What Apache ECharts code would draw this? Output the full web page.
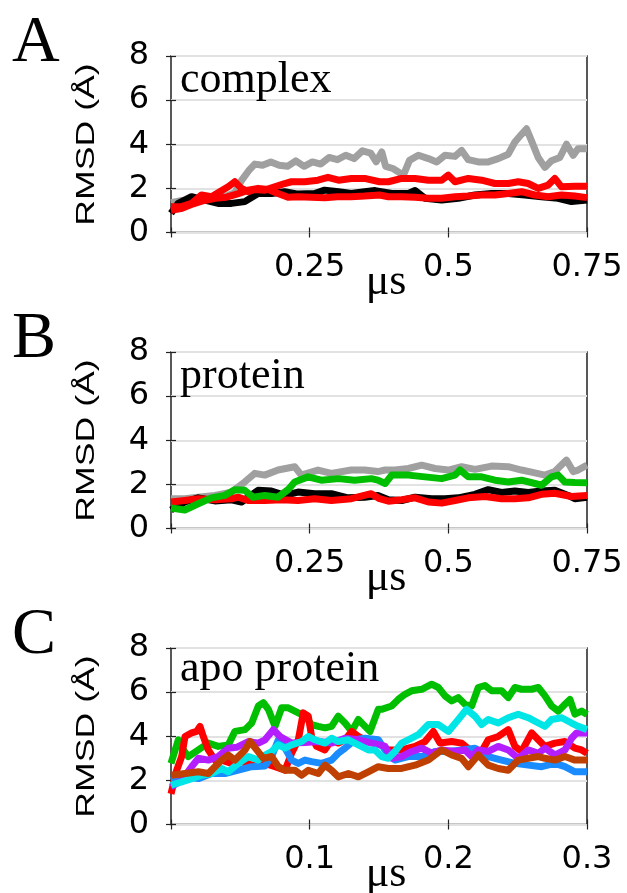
<!DOCTYPE html>
<html>
<head>
<meta charset="utf-8">
<script src="https://cdn.jsdelivr.net/npm/echarts@6/dist/echarts.min.js"></script>
<style>html,body{margin:0;padding:0;background:#fff;}#c{width:627px;height:893px;}</style>
</head>
<body>
<div id="c"></div>
<script>
// ---- Data (time in μs, RMSD in Å) ----
const panelLetters = ['A', 'B', 'C'];
const panelTitles = ['complex', 'protein', 'apo protein'];
const xMaxes = [0.75, 0.75, 0.3];
const xIntervals = [0.25, 0.25, 0.1];
const yTickMax = 8;
const yTickStep = 2;
const xName = 'μs';
const yName = 'RMSD (Å)';

// Panel A: complex
const aGray = [[0,1.35],[0.02,1.45],[0.04,1.5],[0.06,1.55],[0.08,1.6],[0.10,1.65],[0.115,1.8],[0.127,2.35],[0.14,2.8],[0.151,3.1],[0.165,3.05],[0.18,3.2],[0.195,3.05],[0.21,3.0],[0.225,3.25],[0.24,3.0],[0.255,3.2],[0.27,3.1],[0.285,3.4],[0.30,3.3],[0.315,3.5],[0.33,3.35],[0.345,3.7],[0.36,3.6],[0.37,3.2],[0.38,3.65],[0.387,3.0],[0.40,2.9],[0.419,2.6],[0.43,3.27],[0.446,3.5],[0.464,3.35],[0.479,3.2],[0.494,3.5],[0.512,3.45],[0.524,3.72],[0.536,3.3],[0.554,3.2],[0.572,3.2],[0.59,3.35],[0.608,3.55],[0.62,4.1],[0.632,4.45],[0.641,4.7],[0.65,4.15],[0.662,3.4],[0.674,2.95],[0.686,3.25],[0.701,3.4],[0.713,4.0],[0.725,3.5],[0.734,3.8],[0.75,3.8]];
const aBlack = [[0,0.87],[0.013,1.32],[0.037,1.62],[0.061,1.47],[0.085,1.32],[0.109,1.32],[0.133,1.4],[0.157,1.77],[0.181,1.77],[0.205,1.85],[0.229,1.74],[0.259,1.77],[0.277,1.92],[0.302,1.85],[0.325,1.77],[0.349,1.85],[0.368,1.9],[0.398,1.77],[0.428,1.77],[0.44,1.9],[0.458,1.55],[0.488,1.47],[0.518,1.55],[0.548,1.7],[0.578,1.77],[0.608,1.77],[0.638,1.7],[0.668,1.62],[0.698,1.55],[0.722,1.4],[0.75,1.47]];
const aRed1 = [[0,1.17],[0.019,1.17],[0.037,1.32],[0.055,1.7],[0.073,1.62],[0.088,1.85],[0.103,2.07],[0.115,2.3],[0.127,2.0],[0.139,1.85],[0.151,1.95],[0.169,1.92],[0.187,2.07],[0.205,2.22],[0.217,2.3],[0.241,2.3],[0.265,2.37],[0.283,2.5],[0.302,2.37],[0.325,2.45],[0.349,2.45],[0.376,2.3],[0.392,2.3],[0.416,2.45],[0.44,2.45],[0.464,2.37],[0.488,2.37],[0.5,2.6],[0.512,2.3],[0.536,2.45],[0.56,2.37],[0.584,2.22],[0.608,2.22],[0.626,2.3],[0.644,2.22],[0.662,2.0],[0.68,2.15],[0.692,2.45],[0.704,2.07],[0.728,2.1],[0.75,2.1]];
const aRed2 = [[0,1.0],[0.02,1.1],[0.04,1.3],[0.06,1.45],[0.08,1.55],[0.10,1.6],[0.12,1.75],[0.139,1.92],[0.157,2.0],[0.175,1.95],[0.193,1.77],[0.211,1.6],[0.229,1.62],[0.253,1.6],[0.277,1.58],[0.30,1.62],[0.325,1.62],[0.349,1.65],[0.376,1.7],[0.392,1.62],[0.416,1.62],[0.44,1.6],[0.464,1.55],[0.488,1.55],[0.512,1.62],[0.536,1.65],[0.56,1.7],[0.584,1.7],[0.608,1.77],[0.632,1.85],[0.656,1.7],[0.68,1.62],[0.704,1.7],[0.728,1.65],[0.75,1.58]];

// Panel B: protein
const bGray = [[0,1.35],[0.025,1.35],[0.049,1.42],[0.079,1.5],[0.109,1.65],[0.133,2.11],[0.151,2.5],[0.169,2.42],[0.193,2.65],[0.223,2.8],[0.235,2.42],[0.265,2.65],[0.289,2.5],[0.325,2.65],[0.349,2.65],[0.373,2.58],[0.386,2.65],[0.404,2.65],[0.428,2.72],[0.452,2.87],[0.476,2.72],[0.5,2.65],[0.524,2.8],[0.548,2.68],[0.578,2.83],[0.608,2.8],[0.632,2.65],[0.656,2.52],[0.674,2.42],[0.692,2.58],[0.713,3.1],[0.725,2.58],[0.734,2.65],[0.75,2.87]];
const bBlack = [[0,0.84],[0.025,1.2],[0.049,1.39],[0.079,1.25],[0.109,1.3],[0.127,1.2],[0.157,1.73],[0.181,1.7],[0.205,1.5],[0.229,1.65],[0.259,1.58],[0.289,1.58],[0.319,1.39],[0.349,1.42],[0.373,1.5],[0.392,1.3],[0.416,1.27],[0.44,1.42],[0.47,1.35],[0.494,1.35],[0.518,1.39],[0.548,1.55],[0.572,1.76],[0.596,1.63],[0.62,1.7],[0.644,1.63],[0.668,1.7],[0.692,1.73],[0.716,1.5],[0.728,1.35],[0.75,1.42]];
const bRed = [[0,1.2],[0.025,1.27],[0.049,1.35],[0.079,1.3],[0.109,1.35],[0.121,1.42],[0.139,1.27],[0.169,1.27],[0.199,1.3],[0.229,1.27],[0.259,1.35],[0.289,1.27],[0.325,1.35],[0.361,1.58],[0.376,1.35],[0.392,1.24],[0.416,1.3],[0.44,1.39],[0.464,1.2],[0.488,1.15],[0.512,1.27],[0.536,1.39],[0.566,1.45],[0.596,1.35],[0.62,1.35],[0.644,1.39],[0.668,1.55],[0.692,1.6],[0.722,1.45],[0.75,1.5]];
const bGreen = [[0,0.93],[0.025,0.84],[0.049,1.12],[0.073,1.39],[0.097,1.5],[0.115,1.76],[0.133,1.73],[0.148,1.42],[0.169,1.5],[0.193,1.42],[0.211,1.76],[0.223,2.11],[0.247,2.34],[0.271,2.19],[0.302,2.26],[0.331,2.19],[0.361,2.26],[0.373,2.19],[0.386,2.04],[0.398,2.42],[0.428,2.42],[0.458,2.34],[0.488,2.26],[0.512,2.42],[0.521,2.65],[0.536,2.34],[0.56,2.34],[0.584,2.19],[0.608,2.11],[0.632,2.19],[0.656,2.04],[0.668,1.96],[0.686,2.34],[0.698,2.42],[0.71,2.11],[0.728,2.08],[0.75,2.07]];

// Panel C: apo protein
const cGreen = [[0,2.77],[0.0053,3.84],[0.0089,3.38],[0.0125,3.08],[0.0197,3.38],[0.0269,3.69],[0.0341,3.54],[0.0413,3.61],[0.0461,4.22],[0.0534,4.3],[0.0582,4.6],[0.063,5.37],[0.0666,5.52],[0.0702,5.22],[0.075,4.45],[0.0798,5.29],[0.0846,5.29],[0.0918,5.06],[0.0966,4.91],[0.1014,4.53],[0.1062,4.45],[0.111,4.38],[0.1158,4.45],[0.1206,4.91],[0.1255,4.6],[0.1303,4.22],[0.1351,4.76],[0.1399,4.45],[0.1435,4.22],[0.1495,5.22],[0.1519,5.22],[0.1591,5.37],[0.1639,5.67],[0.1687,5.9],[0.1735,6.06],[0.1808,6.13],[0.188,6.36],[0.1928,6.21],[0.1976,5.83],[0.2024,5.6],[0.2072,5.75],[0.212,5.45],[0.2168,5.37],[0.2216,6.21],[0.2264,6.3],[0.2312,6.06],[0.2384,6.06],[0.2432,5.75],[0.248,6.21],[0.2528,6.13],[0.2601,6.13],[0.2649,6.21],[0.2697,5.83],[0.2745,5.37],[0.2793,5.14],[0.2841,5.45],[0.2877,5.67],[0.2913,5.0],[0.2961,5.14],[0.3,4.99]];
const cRed = [[0,1.39],[0.0041,2.46],[0.0077,3.08],[0.0101,3.99],[0.0149,4.15],[0.0185,4.22],[0.0209,4.45],[0.0233,3.99],[0.0269,3.38],[0.0317,2.92],[0.0365,2.92],[0.0437,2.77],[0.051,2.85],[0.0582,2.69],[0.0678,2.77],[0.075,2.62],[0.0822,2.46],[0.087,3.23],[0.0918,3.84],[0.0954,5.06],[0.099,4.91],[0.1014,3.99],[0.105,3.54],[0.111,3.38],[0.1158,3.84],[0.1206,3.69],[0.1255,3.84],[0.1303,4.22],[0.1351,3.99],[0.1399,3.84],[0.1495,3.69],[0.1567,3.38],[0.1663,3.38],[0.176,3.54],[0.1832,3.76],[0.1892,4.22],[0.194,3.69],[0.2024,3.76],[0.2096,3.69],[0.2168,3.31],[0.224,3.31],[0.2288,3.84],[0.236,3.99],[0.2432,4.3],[0.248,3.54],[0.2528,3.31],[0.2601,4.15],[0.2649,3.84],[0.2697,3.54],[0.2769,3.69],[0.2841,3.76],[0.2913,3.46],[0.2961,3.38],[0.3,3.23]];
const cBlue = [[0,2.0],[0.0101,2.16],[0.0197,2.08],[0.0293,2.31],[0.0389,2.31],[0.0486,2.46],[0.0582,2.62],[0.0678,2.65],[0.0726,3.08],[0.0774,3.84],[0.0822,3.46],[0.087,2.92],[0.0918,2.77],[0.0966,2.92],[0.1014,2.85],[0.1086,2.77],[0.1158,2.92],[0.1206,3.23],[0.1255,3.46],[0.1327,3.84],[0.1399,3.91],[0.1495,3.84],[0.1543,3.38],[0.1615,2.92],[0.1711,3.08],[0.1808,3.08],[0.1904,3.31],[0.2,3.31],[0.2096,3.38],[0.2192,3.46],[0.2288,3.08],[0.2384,2.92],[0.248,2.77],[0.2576,2.69],[0.2673,2.62],[0.2769,2.77],[0.2841,2.62],[0.2913,2.39],[0.3,2.39]];
const cPurple = [[0,1.7],[0.0077,2.0],[0.0149,2.62],[0.0197,3.0],[0.0269,2.92],[0.0341,3.08],[0.0413,3.46],[0.0473,3.5],[0.0558,3.76],[0.063,3.69],[0.0678,3.84],[0.0738,4.3],[0.0786,3.99],[0.087,3.69],[0.0966,3.72],[0.1062,3.76],[0.1158,3.69],[0.1255,3.91],[0.1351,3.84],[0.1447,3.69],[0.1507,3.61],[0.1543,3.54],[0.1591,3.0],[0.1663,3.08],[0.1735,3.31],[0.1808,3.46],[0.188,3.23],[0.1952,3.38],[0.2048,3.31],[0.212,3.38],[0.2168,3.08],[0.2216,3.38],[0.2288,3.31],[0.236,3.54],[0.2432,3.38],[0.2504,3.0],[0.2576,3.38],[0.2649,3.23],[0.2697,3.46],[0.2769,3.15],[0.2841,3.38],[0.2889,3.91],[0.2925,4.15],[0.3,4.15]];
const cCyan = [[0,1.78],[0.0077,1.93],[0.0149,2.08],[0.0221,2.23],[0.0293,2.31],[0.0365,2.54],[0.0413,2.39],[0.0486,2.77],[0.0558,3.08],[0.063,2.92],[0.0678,3.15],[0.0726,3.31],[0.0774,3.61],[0.0822,3.46],[0.087,3.61],[0.0942,3.76],[0.099,3.99],[0.1038,3.84],[0.111,3.69],[0.1158,3.91],[0.1206,3.76],[0.1279,3.84],[0.1351,3.61],[0.1423,3.38],[0.1471,3.38],[0.1519,3.08],[0.1567,3.0],[0.1615,3.31],[0.1663,3.69],[0.1711,3.84],[0.1784,4.07],[0.1856,4.53],[0.1928,4.53],[0.2,4.22],[0.2072,4.76],[0.2132,5.22],[0.2192,4.91],[0.224,4.53],[0.2288,4.76],[0.236,4.6],[0.2432,4.84],[0.2504,5.0],[0.2576,4.84],[0.2649,4.6],[0.2697,4.45],[0.2745,4.76],[0.2817,4.84],[0.2889,4.6],[0.2937,4.45],[0.3,4.3]];
const cBrown = [[0,2.23],[0.0101,2.31],[0.0197,2.39],[0.0269,2.31],[0.0317,2.62],[0.0365,2.92],[0.0413,3.15],[0.0461,2.92],[0.0534,3.38],[0.057,3.76],[0.0618,3.38],[0.0666,3.0],[0.0726,3.08],[0.0774,2.62],[0.0822,2.46],[0.0894,2.46],[0.0942,2.23],[0.099,2.46],[0.1062,2.31],[0.111,2.69],[0.1158,2.46],[0.1206,2.16],[0.1279,2.31],[0.1351,2.16],[0.1423,2.39],[0.1495,2.62],[0.1567,2.54],[0.1663,2.54],[0.176,2.69],[0.1856,2.92],[0.1952,3.38],[0.2024,3.15],[0.2096,3.0],[0.2144,2.62],[0.2216,3.15],[0.2288,2.69],[0.236,2.54],[0.2432,2.46],[0.2504,2.92],[0.2576,3.0],[0.2649,3.08],[0.2697,3.0],[0.2769,2.92],[0.2841,3.08],[0.2913,2.92],[0.3,2.92]];

// series per panel, in drawing order
const panelSeries = [
  [{d: aGray, c: '#a0a0a0'}, {d: aBlack, c: '#000000'}, {d: aRed2, c: '#ff0000'}, {d: aRed1, c: '#ff0000'}],
  [{d: bGray, c: '#a0a0a0'}, {d: bBlack, c: '#000000'}, {d: bRed, c: '#ff0000'}, {d: bGreen, c: '#00bf00'}],
  [{d: cGreen, c: '#00bf00'}, {d: cRed, c: '#ff0000'}, {d: cBlue, c: '#1a8cff'}, {d: cPurple, c: '#b41eff'}, {d: cCyan, c: '#00e6e6'}, {d: cBrown, c: '#bf4000'}]
];

// ---- Layout ----
const gridLeft = 171, gridWidth = 416;
const gridTops = [56, 352, 648];
const gridHeight = 176.5;
const sans = 'DejaVu Sans';
const serif = 'Liberation Serif';

const grids = [], xAxes = [], yAxes = [], series = [], graphics = [];
for (let i = 0; i < 3; i++) {
  grids.push({left: gridLeft, top: gridTops[i], width: gridWidth, height: gridHeight,
    show: true, borderColor: '#222', borderWidth: 1.5, backgroundColor: 'transparent'});
  const xMax = xMaxes[i], xInt = xIntervals[i];
  xAxes.push({type: 'value', gridIndex: i, min: 0, max: xMax, interval: xInt, position: 'bottom',
    axisLine: {show: false},
    axisTick: {show: true, inside: true, length: 5, lineStyle: {color: '#222', width: 1.2}},
    axisLabel: {show: true, margin: 19, color: '#000', fontFamily: sans, fontSize: 32,
      formatter: v => (v === 0 ? '' : String(+v.toFixed(2)))},
    splitLine: {show: false}
  });
  xAxes.push({type: 'value', gridIndex: i, min: 0, max: xMax, interval: xInt, position: 'top',
    axisLine: {show: false},
    axisTick: {show: true, inside: true, length: 5, lineStyle: {color: '#222', width: 1.2}},
    axisLabel: {show: false}, splitLine: {show: false}});
  yAxes.push({type: 'value', gridIndex: i, min: 0, max: yTickMax, interval: yTickStep, position: 'left',
    axisLine: {show: false},
    axisTick: {show: true, inside: true, length: 5, lineStyle: {color: '#222', width: 1.2}},
    axisLabel: {show: true, margin: 22, color: '#000', fontFamily: sans, fontSize: 32},
    splitLine: {show: true, lineStyle: {color: '#e2e2e2', width: 2}}
  });
  yAxes.push({type: 'value', gridIndex: i, min: 0, max: yTickMax, interval: yTickStep, position: 'right',
    axisLine: {show: false},
    axisTick: {show: true, inside: true, length: 5, lineStyle: {color: '#222', width: 1.2}},
    axisLabel: {show: false}, splitLine: {show: false}});
  panelSeries[i].forEach((s, k) => {
    series.push({type: 'line', xAxisIndex: 2 * i, yAxisIndex: 2 * i, data: s.d,
      showSymbol: false, symbol: 'none', smooth: false, z: 2 + k, silent: true,
      lineStyle: {color: s.c, width: 7, join: 'round'}, animation: false});
  });
  const top = gridTops[i];
  // panel letter
  graphics.push({type: 'text', x: 12, y: top - 12, z: 100,
    style: {text: panelLetters[i], font: '66px "' + serif + '"', fill: '#000', textAlign: 'left', textVerticalAlign: 'middle'}});
  // inner title
  graphics.push({type: 'text', x: 180, y: top + (i === 2 ? 21 : 24), z: 100,
    style: {text: panelTitles[i], font: '44px "' + serif + '"', fill: '#000', textAlign: 'left', textVerticalAlign: 'middle'}});
  // y axis name
  graphics.push({type: 'text', x: 87, y: top + 88.5, rotation: Math.PI / 2, scaleX: 1.37, z: 100,
    style: {text: yName, font: '26px "Liberation Sans"', fill: '#000', textAlign: 'center', textVerticalAlign: 'middle'}});
  // x axis name
  graphics.push({type: 'text', x: 386, y: top + 226, z: 100,
    style: {text: xName, font: '44px "' + serif + '"', fill: '#000', textAlign: 'center', textVerticalAlign: 'middle'}});
}

const chart = echarts.init(document.getElementById('c'), null, {renderer: 'canvas'});
chart.setOption({
  animation: false,
  backgroundColor: '#ffffff',
  grid: grids, xAxis: xAxes, yAxis: yAxes, series: series,
  graphic: graphics
});
</script>
</body>
</html>
